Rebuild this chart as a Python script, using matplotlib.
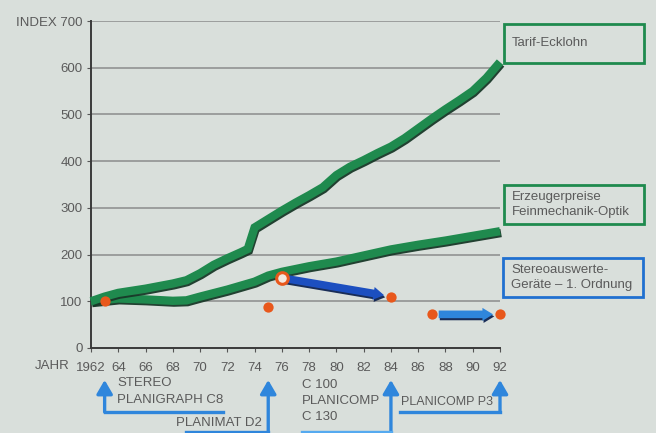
import matplotlib
matplotlib.use("Agg")
import matplotlib.pyplot as plt
import matplotlib.patheffects as pe
import matplotlib.transforms as mtransforms
from matplotlib.patches import Rectangle, FancyArrowPatch

# ---------------- data ----------------
tarif_years = [1962, 1963, 1964, 1966, 1968, 1969, 1970, 1971, 1972, 1973, 1973.5, 1974,
               1975, 1976, 1977, 1978, 1979, 1980, 1981, 1982, 1983, 1984, 1985, 1986,
               1987, 1988, 1989, 1990, 1991, 1992]
tarif_index = [100, 110, 118, 127, 138, 145, 160, 178, 192, 205, 212, 258,
               276, 294, 311, 327, 344, 370, 388, 402, 417, 431, 449, 470,
               491, 511, 530, 550, 578, 612]

erzeuger_years = [1962, 1964, 1966, 1968, 1969, 1970, 1972, 1974, 1975, 1976, 1978,
                  1980, 1982, 1984, 1986, 1988, 1990, 1992]
erzeuger_index = [100, 106, 104, 101, 102, 110, 125, 142, 155, 163, 175,
                  185, 198, 211, 221, 230, 240, 250]

stereo_dot_years = [1963, 1975, 1984, 1987, 1992]
stereo_dot_index = [100, 87, 110, 72, 72]
stereo_open_year = [1976]
stereo_open_index = [150]

# trend arrows (start year, start index, end year, end index)
trend_start_years = [1976, 1987.3]
trend_start_index = [150, 72]
trend_end_years = [1983.7, 1991.7]
trend_end_index = [112, 72]

x_ticks = list(range(1962, 1993, 2))
x_labels = ["1962"] + [str(y % 100) for y in range(1964, 1993, 2)]
y_ticks = [0, 100, 200, 300, 400, 500, 600, 700]
y_labels = ["0", "100", "200", "300", "400", "500", "600", "INDEX 700"]

model_years = [1963, 1975, 1984, 1992]
model_names = ["STEREO\nPLANIGRAPH C8", "PLANIMAT D2", "C 100\nPLANICOMP\nC 130", "PLANICOMP P3"]

legend_labels = ["Tarif-Ecklohn", "Erzeugerpreise\nFeinmechanik-Optik", "Stereoauswerte-\nGeräte – 1. Ordnung"]

# ---------------- style ----------------
W, H = 656, 433
BG = "#d9dfdb"
GREEN = "#1f8a4e"
TXT = "#5a5a5a"
DARKBLUE = "#1c4fc0"
LIGHTBLUE = "#2f86dc"
ORANGE = "#e8581c"

plt.rcParams['font.family'] = ['Liberation Sans', 'DejaVu Sans']

fig = plt.figure(figsize=(W / 100, H / 100), dpi=100, facecolor=BG)

def fx(px):
    return px / W

def fy(py):
    return (H - py) / H

x0, x1 = 91, 500
y0, y1 = 348, 21
ax = fig.add_axes([fx(x0), fy(y0), fx(x1) - fx(x0), fy(y1) - fy(y0)])
ax.set_facecolor(BG)
ax.set_xlim(1962, 1992)
ax.set_ylim(0, 700)

for s in ["top", "right"]:
    ax.spines[s].set_visible(False)
for s in ["left", "bottom"]:
    ax.spines[s].set_color("#3a3a3a")
    ax.spines[s].set_linewidth(1.4)

ax.set_yticks(y_ticks)
ax.set_yticklabels(y_labels)
ax.set_xticks(x_ticks)
ax.set_xticklabels(x_labels)
ax.tick_params(axis="both", colors="#555555", labelcolor=TXT, labelsize=9.5, length=3, width=0.8)
ax.tick_params(axis="x", pad=7)
ax.tick_params(axis="y", pad=3)
for y in y_ticks[1:]:
    ax.axhline(y, color="#8c8c8c", lw=1.1, zorder=1)

fig.text(fx(35), fy(366), "JAHR", color=TXT, fontsize=9.5, va="center", ha="left")

shadow = [pe.SimpleLineShadow(offset=(0.8, -1.3), shadow_color="#183828", alpha=0.95), pe.Normal()]
ax.plot(erzeuger_years, erzeuger_index, color=GREEN, lw=6, solid_capstyle="butt",
        solid_joinstyle="miter", path_effects=shadow, zorder=3, clip_on=False)
ax.plot(tarif_years, tarif_index, color=GREEN, lw=6, solid_capstyle="butt",
        solid_joinstyle="miter", path_effects=shadow, zorder=3, clip_on=False)

# trend arrows
arrow_colors = [DARKBLUE, LIGHTBLUE]
arrow_shadow = [pe.SimplePatchShadow(offset=(0.8, -1.5), shadow_rgbFace="#0e2350", alpha=0.95), pe.Normal()]
for i in range(len(trend_start_years)):
    a = FancyArrowPatch((trend_start_years[i], trend_start_index[i]),
                        (trend_end_years[i], trend_end_index[i]),
                        arrowstyle="simple,head_length=0.7,head_width=0.85,tail_width=0.5",
                        mutation_scale=11, facecolor=arrow_colors[i], edgecolor="none",
                        zorder=4, clip_on=False, path_effects=arrow_shadow)
    ax.add_patch(a)

ax.scatter(stereo_dot_years, stereo_dot_index, s=55, color=ORANGE, zorder=5, clip_on=False, linewidths=0)
ax.scatter(stereo_open_year, stereo_open_index, s=70, facecolor="#f4e8e0", edgecolor=ORANGE,
           linewidths=2.2, zorder=6, clip_on=False)

# model annotations below the axis
btr = mtransforms.blended_transform_factory(ax.transData, fig.transFigure)
ANN = "#2f86dc"

def vline_arrow(year, ybot_px):
    ar = FancyArrowPatch((year, fy(ybot_px)), (year, fy(380)), transform=btr,
                         arrowstyle="-|>,head_length=0.55,head_width=0.32", mutation_scale=15,
                         color=ANN, lw=2.4, clip_on=False, shrinkA=0, shrinkB=0)
    fig.add_artist(ar)

def hline(xa, xb, ypx, color=ANN):
    fig.add_artist(plt.Line2D([xa, xb], [fy(ypx), fy(ypx)], transform=btr, color=color, lw=2.4,
                              solid_capstyle="projecting"))

# 1963 STEREO PLANIGRAPH C8
vline_arrow(model_years[0], 412)
hline(model_years[0], 1971.7, 412)
fig.text(fx(117), fy(391.5), model_names[0], color=TXT, fontsize=9.5,
         va="center", ha="left", linespacing=1.6)
# 1975 PLANIMAT D2
vline_arrow(model_years[1], 440)
hline(1969, model_years[1], 432)
fig.text(fx(262), fy(423), model_names[1], color=TXT, fontsize=9.5, va="center", ha="right")
# 1984 C100 / PLANICOMP / C130
vline_arrow(model_years[2], 440)
hline(1977.5, model_years[2], 432, color="#55aaf0")
fig.text(fx(302), fy(401), model_names[2], color=TXT, fontsize=9.5, va="center", ha="left",
         linespacing=1.5)
# 1992 PLANICOMP P3
vline_arrow(model_years[3], 412)
hline(1984.7, model_years[3], 412)
fig.text(fx(401), fy(402), model_names[3], color=TXT, fontsize=9, va="center", ha="left")

# legend boxes
boxes = [(504, 24, 644, 63, GREEN), (504, 185, 644, 224, GREEN), (503, 258, 643, 297, "#2070d0")]
for (bx0, by0, bx1, by1, c), lab in zip(boxes, legend_labels):
    fig.add_artist(Rectangle((fx(bx0), fy(by1)), fx(bx1) - fx(bx0), fy(by0) - fy(by1),
                             transform=fig.transFigure, fill=False, edgecolor=c, lw=2))
    fig.text(fx(bx0 + 8), (fy(by0) + fy(by1)) / 2, lab, color=TXT, fontsize=9.5,
             va="center", ha="left", linespacing=1.3)

fig.savefig("out.png", dpi=100, facecolor=BG)
